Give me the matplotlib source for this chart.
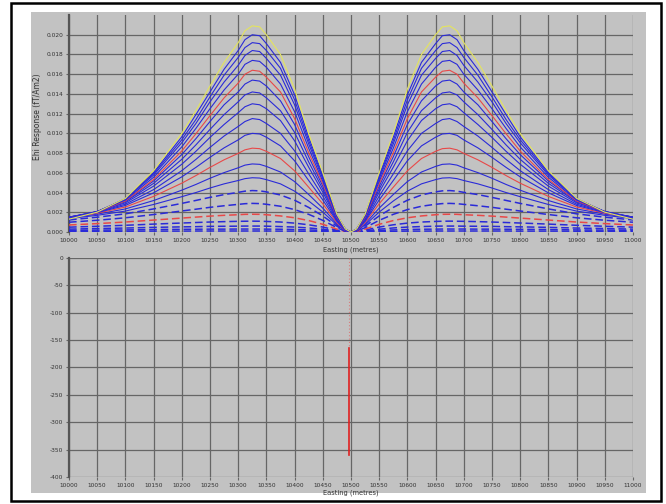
import matplotlib.pyplot as plt
from matplotlib.patches import Rectangle

# distance from the conductor centre (metres), responses in 1e-3 fT/Am2
centre = 10500
offsets = [0, 10, 25, 50, 75, 100, 125, 150, 162, 175, 188, 200, 225, 250, 275, 300, 350, 400, 450, 500]

channels = [
    [0, 0.31, 1.80, 6.00, 9.99, 14.5, 18.0, 20.0, 20.8, 20.9, 20.4, 19.2, 17.2, 14.8, 12.3, 10.0, 6.21, 3.41, 2.01, 1.30],
    [0, 0.30, 1.74, 5.78, 9.61, 13.9, 17.2, 19.1, 19.9, 20.0, 19.5, 18.4, 16.5, 14.2, 11.9, 9.65, 6.05, 3.38, 2.03, 1.34],
    [0, 0.29, 1.70, 5.59, 9.27, 13.4, 16.6, 18.4, 19.1, 19.2, 18.7, 17.7, 15.9, 13.7, 11.4, 9.35, 5.92, 3.36, 2.05, 1.38],
    [0, 0.28, 1.65, 5.40, 8.93, 12.9, 15.9, 17.6, 18.3, 18.4, 17.9, 16.9, 15.2, 13.2, 11.0, 9.05, 5.77, 3.32, 2.08, 1.41],
    [0, 0.27, 1.58, 5.14, 8.49, 12.2, 15.0, 16.7, 17.3, 17.4, 17.0, 16.0, 14.4, 12.5, 10.5, 8.63, 5.55, 3.24, 2.06, 1.42],
    [0, 0.26, 1.50, 4.89, 8.04, 11.5, 14.2, 15.7, 16.3, 16.4, 16.0, 15.1, 13.6, 11.8, 9.96, 8.21, 5.33, 3.15, 2.03, 1.42],
    [0, 0.25, 1.45, 4.65, 7.62, 10.9, 13.3, 14.8, 15.3, 15.4, 15.0, 14.2, 12.9, 11.2, 9.46, 7.85, 5.17, 3.14, 2.08, 1.48],
    [0, 0.23, 1.37, 4.35, 7.10, 10.1, 12.3, 13.6, 14.1, 14.2, 13.9, 13.2, 11.9, 10.4, 8.83, 7.37, 4.93, 3.07, 2.07, 1.51],
    [0, 0.22, 1.28, 4.04, 6.57, 9.25, 11.3, 12.5, 12.9, 13.0, 12.7, 12.1, 10.9, 9.59, 8.18, 6.87, 4.65, 2.96, 2.04, 1.51],
    [0, 0.20, 1.17, 3.64, 5.89, 8.23, 10.0, 11.0, 11.4, 11.5, 11.2, 10.7, 9.73, 8.58, 7.36, 6.22, 4.30, 2.82, 2.00, 1.50],
    [0, 0.18, 1.07, 3.25, 5.22, 7.22, 8.73, 9.61, 9.94, 10.0, 9.80, 9.34, 8.53, 7.57, 6.55, 5.59, 3.97, 2.69, 1.96, 1.50],
    [0, 0.16, 0.95, 2.86, 4.54, 6.20, 7.45, 8.18, 8.45, 8.50, 8.33, 7.97, 7.32, 6.55, 5.72, 4.95, 3.61, 2.53, 1.90, 1.48],
    [0, 0.13, 0.83, 2.42, 3.80, 5.11, 6.08, 6.65, 6.86, 6.90, 6.78, 6.51, 6.02, 5.45, 4.82, 4.24, 3.19, 2.34, 1.81, 1.44],
    [0, 0.11, 0.71, 2.02, 3.14, 4.14, 4.88, 5.31, 5.47, 5.50, 5.41, 5.22, 4.88, 4.46, 4.00, 3.58, 2.79, 2.12, 1.69, 1.36],
    [0, 0.09, 0.59, 1.63, 2.49, 3.22, 3.75, 4.07, 4.17, 4.20, 4.14, 4.02, 3.79, 3.51, 3.20, 2.90, 2.34, 1.84, 1.50, 1.22],
    [0, 0.07, 0.44, 1.18, 1.79, 2.27, 2.61, 2.81, 2.88, 2.90, 2.87, 2.80, 2.66, 2.50, 2.31, 2.13, 1.77, 1.44, 1.19, 0.99],
    [0, 0.05, 0.29, 0.78, 1.16, 1.44, 1.63, 1.75, 1.79, 1.80, 1.79, 1.75, 1.69, 1.61, 1.51, 1.41, 1.21, 1.01, 0.85, 0.71],
    [0, 0.03, 0.19, 0.50, 0.73, 0.90, 1.01, 1.07, 1.09, 1.10, 1.09, 1.08, 1.05, 1.01, 0.96, 0.91, 0.80, 0.68, 0.58, 0.49],
    [0, 0.02, 0.11, 0.28, 0.41, 0.50, 0.55, 0.59, 0.60, 0.60, 0.60, 0.59, 0.58, 0.57, 0.54, 0.52, 0.47, 0.40, 0.35, 0.29],
    [0, 0.01, 0.06, 0.15, 0.21, 0.25, 0.28, 0.29, 0.30, 0.30, 0.30, 0.30, 0.29, 0.29, 0.28, 0.27, 0.25, 0.21, 0.19, 0.16],
    [0, 0.00, 0.02, 0.05, 0.07, 0.09, 0.09, 0.10, 0.10, 0.10, 0.10, 0.10, 0.10, 0.10, 0.10, 0.09, 0.09, 0.08, 0.07, 0.06],
]
channel_colors = ['#e4e45c'] + ['#2a2ad8'] * 4 + ['#e84848'] + ['#2a2ad8'] * 5 + ['#e84848'] \
    + ['#2a2ad8'] * 4 + ['#e84848'] + ['#2a2ad8'] * 4

# lower panel: single station trace
trace_x = 10497
trace_solid = [-165, -360]
trace_faint = [0, -165]

xticks = list(range(10000, 11001, 50))
yticks_top = [0.000, 0.002, 0.004, 0.006, 0.008, 0.010, 0.012, 0.014, 0.016, 0.018, 0.020]
yticks_bot = [0, -50, -100, -150, -200, -250, -300, -350, -400]

panel = '#c2c2c2'
gridc = '#666666'
txt = '#333333'

fig = plt.figure(figsize=(6.66, 5.04), dpi=100)
fig.patches.append(Rectangle((0.0465, 0.0218), 0.9234, 0.9544, transform=fig.transFigure,
                             facecolor=panel, edgecolor='none', zorder=-2))
fig.patches.append(Rectangle((0.016, 0.005), 0.977, 0.990, transform=fig.transFigure,
                             facecolor='none', edgecolor='black', linewidth=1.8, zorder=5))

ax1 = fig.add_axes([0.1036, 0.5397, 0.8468, 0.4305])
ax2 = fig.add_axes([0.1036, 0.0536, 0.8468, 0.4345])

for ax in (ax1, ax2):
    ax.set_facecolor(panel)
    ax.set_xlim(10000, 11000)
    ax.set_xticks(xticks)
    ax.set_xticklabels([str(t) for t in xticks])
    ax.grid(True, color=gridc, linewidth=0.9)
    ax.set_axisbelow(True)
    for s in ('top', 'right', 'bottom'):
        ax.spines[s].set_visible(False)
    ax.spines['left'].set_color('#555555')
    ax.spines['left'].set_linewidth(1.6)
    ax.tick_params(axis='both', labelsize=4.2, colors=gridc, labelcolor=txt,
                   length=2.5, width=0.8, pad=1.5)
    ax.set_xlabel('Easting (metres)', fontsize=4.8, color=txt)

xs = [centre - d for d in offsets[::-1]] + [centre + d for d in offsets[1:]]
for i in range(len(channels) - 1, -1, -1):
    vals = channels[i]
    ys = [v / 1000 for v in vals[::-1]] + [v / 1000 for v in vals[1:]]
    style = '-' if i < 14 else (0, (5, 2.5))
    lw = 0.8 if i < 14 else 1.1
    ax1.plot(xs, ys, color=channel_colors[i], linewidth=lw, linestyle=style, zorder=3)

ax1.set_ylim(0, 0.022)
ax1.set_yticks(yticks_top)
ax1.set_yticklabels(['%.3f' % t for t in yticks_top])
ax1.set_ylabel('Ehi Response (fT/Am2)', fontsize=5.5, color=txt)
ax1.yaxis.set_label_coords(-0.048, 0.53)
ax1.xaxis.set_label_coords(0.5, -0.065)

ax2.plot([trace_x, trace_x], trace_faint, color='#e06060', linewidth=0.8,
         linestyle=(0, (1, 2)), alpha=0.7, zorder=3)
ax2.plot([trace_x, trace_x], trace_solid, color='#e02020', linewidth=1.2, zorder=3)
ax2.set_ylim(-400, 0)
ax2.set_yticks(yticks_bot)
ax2.set_yticklabels([str(t) for t in yticks_bot])
ax2.xaxis.set_label_coords(0.5, -0.055)

fig.savefig('out.png', dpi=100)
